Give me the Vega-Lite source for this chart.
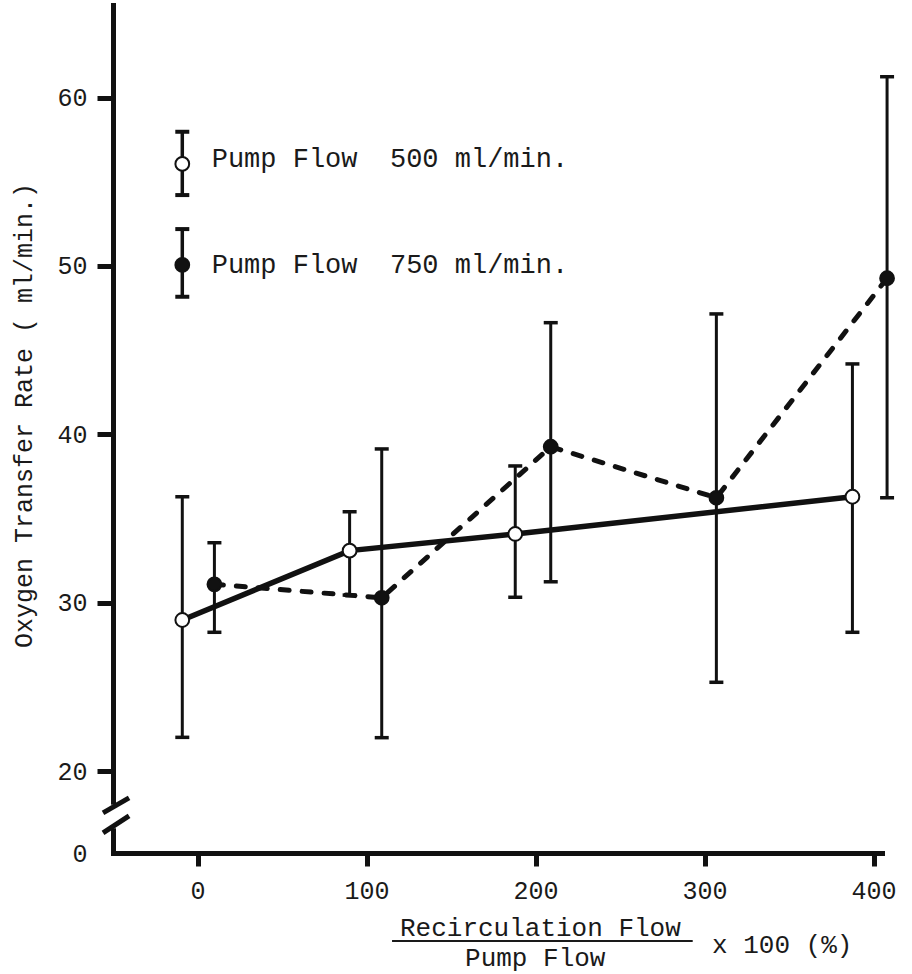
{
  "$schema": "https://vega.github.io/schema/vega-lite/v6.json",
  "width": 769,
  "height": 848,
  "autosize": {"type": "none"},
  "padding": {"left": 113, "top": 5, "right": 30, "bottom": 121},
  "background": "white",
  "config": {
    "view": {"stroke": null},
    "font": "Liberation Mono",
    "tick": {"opacity": 1},
    "axis": {
      "grid": false,
      "domainColor": "#111",
      "domainWidth": 5,
      "domainCap": "square",
      "tickColor": "#111",
      "tickWidth": 5,
      "labelFont": "Liberation Mono",
      "labelFontSize": 25,
      "labelColor": "#1a1a1a",
      "titleFont": "Liberation Mono",
      "titleFontWeight": "normal",
      "titleFontSize": 25,
      "titleColor": "#1a1a1a"
    }
  },
  "datasets": {
    "points": [
      {"pump": "500 ml/min", "recirc": -9, "otr": 28.97, "lo": 22.0, "hi": 36.29},
      {"pump": "500 ml/min", "recirc": 90, "otr": 33.09, "lo": 30.45, "hi": 35.4},
      {"pump": "500 ml/min", "recirc": 188, "otr": 34.08, "lo": 30.32, "hi": 38.12},
      {"pump": "500 ml/min", "recirc": 387.5, "otr": 36.29, "lo": 28.24, "hi": 44.18},
      {"pump": "750 ml/min", "recirc": 10, "otr": 31.09, "lo": 28.24, "hi": 33.56},
      {"pump": "750 ml/min", "recirc": 109, "otr": 30.29, "lo": 21.98, "hi": 39.13},
      {"pump": "750 ml/min", "recirc": 209, "otr": 39.26, "lo": 31.24, "hi": 46.63},
      {"pump": "750 ml/min", "recirc": 307, "otr": 36.23, "lo": 25.27, "hi": 47.15},
      {"pump": "750 ml/min", "recirc": 408, "otr": 49.27, "lo": 36.23, "hi": 61.24}
    ],
    "legend": [
      {"pump": "500 ml/min", "recirc": -9, "otr": 56.06, "lo": 54.21, "hi": 57.97, "label": "Pump Flow\u00a0 500 ml/min.", "tx": 8.4, "ty": 55.9},
      {"pump": "750 ml/min", "recirc": -9, "otr": 50.06, "lo": 48.17, "hi": 52.19, "label": "Pump Flow\u00a0 750 ml/min.", "tx": 8.4, "ty": 49.56}
    ],
    "xtitle": [
      {"text": "Recirculation Flow", "tx": 119.8, "ty": 10.198},
      {"text": "Pump Flow", "tx": 158.3, "ty": 8.416},
      {"text": "x 100 (%)", "tx": 304.4, "ty": 9.19}
    ],
    "fraction": [{"x1": 115.1, "x2": 293, "y": 9.9}],
    "gap": [{"x1": -53, "x2": -47, "y1": 16.6, "y2": 18.0}],
    "breakmarks": [
      {"x1": -55.9, "y1": 17.51, "x2": -40.5, "y2": 18.4},
      {"x1": -55.9, "y1": 16.32, "x2": -40.5, "y2": 17.33}
    ]
  },
  "layer": [
    {
      "data": {"name": "points"},
      "mark": {"type": "rule", "strokeWidth": 3, "color": "#111"},
      "encoding": {
        "x": {"field": "recirc", "type": "quantitative", "title": null, "scale": {"domain": [-50, 405], "nice": false, "zero": false},
          "axis": {"values": [0, 100, 200, 300, 400], "tickSize": 13, "labelPadding": 12}},
        "y": {"field": "lo", "type": "quantitative", "title": "Oxygen Transfer Rate ( ml/min.)", "scale": {"domain": [15.13, 65.5], "nice": false, "zero": false},
          "axis": {"values": [15.13, 20, 30, 40, 50, 60], "tickSize": 16, "labelPadding": 10,
            "labelExpr": "datum.value < 16 ? '0' : datum.label",
            "tickOpacity": {"condition": {"test": "datum.value < 16", "value": 0}, "value": 1},
            "titlePadding": 20, "titleY": 410}},
        "y2": {"field": "hi"}
      }
    },
    {
      "data": {"name": "points"},
      "mark": {"type": "tick", "orient": "horizontal", "size": 14, "thickness": 3.5, "color": "#111", "opacity": 1},
      "encoding": {
        "x": {"field": "recirc", "type": "quantitative", "title": null, "scale": {"domain": [-50, 405], "nice": false, "zero": false}},
        "y": {"field": "lo", "type": "quantitative", "title": "Oxygen Transfer Rate ( ml/min.)", "scale": {"domain": [15.13, 65.5], "nice": false, "zero": false}}
      }
    },
    {
      "data": {"name": "points"},
      "mark": {"type": "tick", "orient": "horizontal", "size": 14, "thickness": 3.5, "color": "#111", "opacity": 1},
      "encoding": {
        "x": {"field": "recirc", "type": "quantitative", "title": null, "scale": {"domain": [-50, 405], "nice": false, "zero": false}},
        "y": {"field": "hi", "type": "quantitative", "title": "Oxygen Transfer Rate ( ml/min.)", "scale": {"domain": [15.13, 65.5], "nice": false, "zero": false}}
      }
    },
    {
      "data": {"name": "points"},
      "transform": [{"filter": "datum.pump == '500 ml/min'"}],
      "mark": {"type": "line", "strokeWidth": 5.5, "color": "#111"},
      "encoding": {
        "x": {"field": "recirc", "type": "quantitative", "title": null, "scale": {"domain": [-50, 405], "nice": false, "zero": false}},
        "y": {"field": "otr", "type": "quantitative", "title": "Oxygen Transfer Rate ( ml/min.)", "scale": {"domain": [15.13, 65.5], "nice": false, "zero": false}}
      }
    },
    {
      "data": {"name": "points"},
      "transform": [{"filter": "datum.pump == '750 ml/min'"}],
      "mark": {"type": "line", "strokeWidth": 5, "color": "#111", "strokeDash": [9, 13], "strokeCap": "round"},
      "encoding": {
        "x": {"field": "recirc", "type": "quantitative", "title": null, "scale": {"domain": [-50, 405], "nice": false, "zero": false}},
        "y": {"field": "otr", "type": "quantitative", "title": "Oxygen Transfer Rate ( ml/min.)", "scale": {"domain": [15.13, 65.5], "nice": false, "zero": false}}
      }
    },
    {
      "data": {"name": "points"},
      "mark": {"type": "point", "shape": "circle", "filled": true, "size": 190, "stroke": "#111", "strokeWidth": 2, "opacity": 1},
      "encoding": {
        "x": {"field": "recirc", "type": "quantitative", "title": null, "scale": {"domain": [-50, 405], "nice": false, "zero": false}},
        "y": {"field": "otr", "type": "quantitative", "title": "Oxygen Transfer Rate ( ml/min.)", "scale": {"domain": [15.13, 65.5], "nice": false, "zero": false}},
        "fill": {"field": "pump", "type": "nominal", "scale": {"domain": ["500 ml/min", "750 ml/min"], "range": ["white", "#111"]}, "legend": null}
      }
    },
    {
      "data": {"name": "legend"},
      "mark": {"type": "rule", "strokeWidth": 3.5, "color": "#111"},
      "encoding": {
        "x": {"field": "recirc", "type": "quantitative", "title": null, "scale": {"domain": [-50, 405], "nice": false, "zero": false}},
        "y": {"field": "lo", "type": "quantitative", "title": "Oxygen Transfer Rate ( ml/min.)", "scale": {"domain": [15.13, 65.5], "nice": false, "zero": false}},
        "y2": {"field": "hi"}
      }
    },
    {
      "data": {"name": "legend"},
      "mark": {"type": "tick", "orient": "horizontal", "size": 14, "thickness": 4, "color": "#111", "opacity": 1},
      "encoding": {
        "x": {"field": "recirc", "type": "quantitative", "title": null, "scale": {"domain": [-50, 405], "nice": false, "zero": false}},
        "y": {"field": "lo", "type": "quantitative", "title": "Oxygen Transfer Rate ( ml/min.)", "scale": {"domain": [15.13, 65.5], "nice": false, "zero": false}}
      }
    },
    {
      "data": {"name": "legend"},
      "mark": {"type": "tick", "orient": "horizontal", "size": 14, "thickness": 4, "color": "#111", "opacity": 1},
      "encoding": {
        "x": {"field": "recirc", "type": "quantitative", "title": null, "scale": {"domain": [-50, 405], "nice": false, "zero": false}},
        "y": {"field": "hi", "type": "quantitative", "title": "Oxygen Transfer Rate ( ml/min.)", "scale": {"domain": [15.13, 65.5], "nice": false, "zero": false}}
      }
    },
    {
      "data": {"name": "legend"},
      "mark": {"type": "point", "shape": "circle", "filled": true, "size": 190, "stroke": "#111", "strokeWidth": 2, "opacity": 1},
      "encoding": {
        "x": {"field": "recirc", "type": "quantitative", "title": null, "scale": {"domain": [-50, 405], "nice": false, "zero": false}},
        "y": {"field": "otr", "type": "quantitative", "title": "Oxygen Transfer Rate ( ml/min.)", "scale": {"domain": [15.13, 65.5], "nice": false, "zero": false}},
        "fill": {"field": "pump", "type": "nominal", "scale": {"domain": ["500 ml/min", "750 ml/min"], "range": ["white", "#111"]}, "legend": null}
      }
    },
    {
      "data": {"name": "legend"},
      "mark": {"type": "text", "align": "left", "baseline": "alphabetic", "fontSize": 27, "font": "Liberation Mono", "color": "#1a1a1a"},
      "encoding": {
        "x": {"field": "tx", "type": "quantitative", "title": null, "scale": {"domain": [-50, 405], "nice": false, "zero": false}},
        "y": {"field": "ty", "type": "quantitative", "title": "Oxygen Transfer Rate ( ml/min.)", "scale": {"domain": [15.13, 65.5], "nice": false, "zero": false}},
        "text": {"field": "label"}
      }
    },
    {
      "data": {"name": "xtitle"},
      "mark": {"type": "text", "align": "left", "baseline": "alphabetic", "fontSize": 26, "font": "Liberation Mono", "color": "#1a1a1a"},
      "encoding": {
        "x": {"field": "tx", "type": "quantitative", "title": null, "scale": {"domain": [-50, 405], "nice": false, "zero": false}},
        "y": {"field": "ty", "type": "quantitative", "title": "Oxygen Transfer Rate ( ml/min.)", "scale": {"domain": [15.13, 65.5], "nice": false, "zero": false}},
        "text": {"field": "text"}
      }
    },
    {
      "data": {"name": "fraction"},
      "mark": {"type": "rule", "strokeWidth": 2, "color": "#1a1a1a"},
      "encoding": {
        "x": {"field": "x1", "type": "quantitative", "title": null, "scale": {"domain": [-50, 405], "nice": false, "zero": false}},
        "x2": {"field": "x2"},
        "y": {"field": "y", "type": "quantitative", "title": "Oxygen Transfer Rate ( ml/min.)", "scale": {"domain": [15.13, 65.5], "nice": false, "zero": false}}
      }
    },
    {
      "data": {"name": "gap"},
      "mark": {"type": "rect", "color": "white", "opacity": 1},
      "encoding": {
        "x": {"field": "x1", "type": "quantitative", "title": null, "scale": {"domain": [-50, 405], "nice": false, "zero": false}},
        "x2": {"field": "x2"},
        "y": {"field": "y1", "type": "quantitative", "title": "Oxygen Transfer Rate ( ml/min.)", "scale": {"domain": [15.13, 65.5], "nice": false, "zero": false}},
        "y2": {"field": "y2"}
      }
    },
    {
      "data": {"name": "breakmarks"},
      "mark": {"type": "rule", "strokeWidth": 5, "color": "#111"},
      "encoding": {
        "x": {"field": "x1", "type": "quantitative", "title": null, "scale": {"domain": [-50, 405], "nice": false, "zero": false}},
        "x2": {"field": "x2"},
        "y": {"field": "y1", "type": "quantitative", "title": "Oxygen Transfer Rate ( ml/min.)", "scale": {"domain": [15.13, 65.5], "nice": false, "zero": false}},
        "y2": {"field": "y2"}
      }
    }
  ]
}
